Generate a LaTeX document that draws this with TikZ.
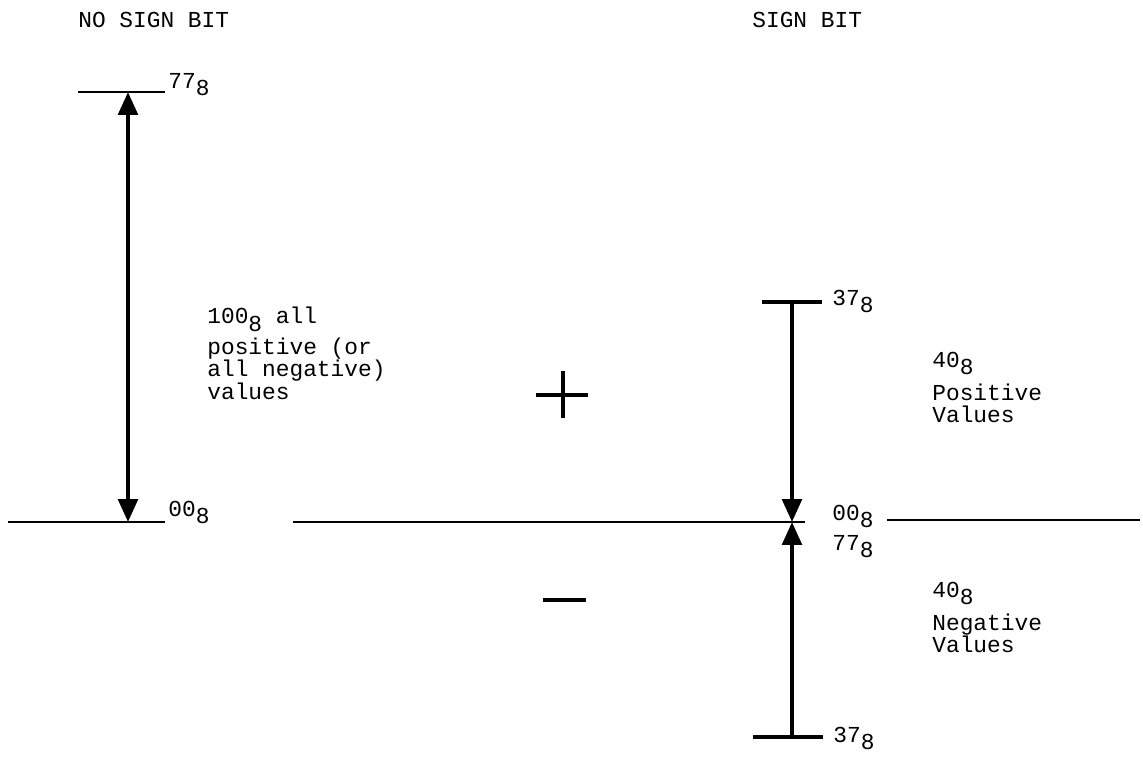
\documentclass[tikz,border=0pt]{standalone}
\usepackage{fontspec}
\setmonofont{Liberation Mono}
\usetikzlibrary{arrows.meta,positioning}
\newcommand{\octnum}[1]{#1\raisebox{-0.6ex}{8}}
\begin{document}
\begin{tikzpicture}[
    x=0.02cm, y=-0.02cm,
    lbl/.style={font=\ttfamily\fontsize{13}{12.8}\selectfont, inner sep=0pt, align=left},
    rule/.style={line width=1.1pt},
    bar/.style={line width=2.6pt},
    shaft/.style={line width=2.4pt},
    tip/.style={-{Triangle[length=13pt,width=11pt]}}
  ]
    \useasboundingbox (0,0) rectangle (1143,761);

    % Headings
    \node[lbl, anchor=west] (nosign) at (78,20) {NO SIGN BIT};
    \node[lbl, anchor=west] (sign) at (752,20) {SIGN BIT};

    % No sign bit scale
    \coordinate (ltopA) at (78,92);
    \coordinate (ltopB) at (165,92);
    \coordinate (lbotA) at (8,522);
    \coordinate (lbotB) at (165,522);
    \coordinate (ltop) at (128,92);
    \coordinate (lbot) at (128,522);
    \coordinate (lmid) at (128,307);
    \draw[rule] (ltopA) -- (ltopB);
    \draw[rule] (lbotA) -- (lbotB);
    \draw[shaft, tip] (lmid) -- (ltop);
    \draw[shaft, tip] (lmid) -- (lbot);
    \node[lbl, anchor=base west] (l77) at (168,88) {\octnum{77}};
    \node[lbl, anchor=base west] (l00) at (168,516) {\octnum{00}};
    \node[lbl, anchor=north west] (lvals) at (207,307)
      {\octnum{100} all\\[2.5pt]positive (or\\all negative)\\values};

    % Plus and minus
    \draw[bar] (536,395) -- (588,395);
    \draw[bar] (563,371) -- (563,418);
    \draw[bar] (543,600) -- (586,600);

    % Sign bit scale
    \coordinate (midA) at (293,522);
    \coordinate (midB) at (805,522);
    \coordinate (rightA) at (887,520);
    \coordinate (rightB) at (1140,520);
    \draw[rule] (midA) -- (midB);
    \draw[rule] (rightA) -- (rightB);
    \coordinate (rtopA) at (762,302);
    \coordinate (rtopB) at (822,302);
    \coordinate (rbotA) at (753,737);
    \coordinate (rbotB) at (823,737);
    \draw[bar] (rtopA) -- (rtopB);
    \draw[bar] (rbotA) -- (rbotB);
    \coordinate (rtop) at (792,302);
    \coordinate (rzero) at (792,522);
    \coordinate (rbot) at (792,737);
    \draw[shaft, tip] (rtop) -- (rzero);
    \draw[shaft, tip] (rbot) -- (rzero);
    \node[lbl, anchor=base west] (r37a) at (832,305) {\octnum{37}};
    \node[lbl, anchor=base west] (r00) at (832,520) {\octnum{00}};
    \node[lbl, anchor=base west] (r77) at (832,550) {\octnum{77}};
    \node[lbl, anchor=base west] (r37b) at (833,742) {\octnum{37}};
    \node[lbl, anchor=north west] (rpos) at (932,352)
      {\octnum{40}\\[4pt]Positive\\Values};
    \node[lbl, anchor=north west] (rneg) at (932,582)
      {\octnum{40}\\[4pt]Negative\\Values};
\end{tikzpicture}
\end{document}
